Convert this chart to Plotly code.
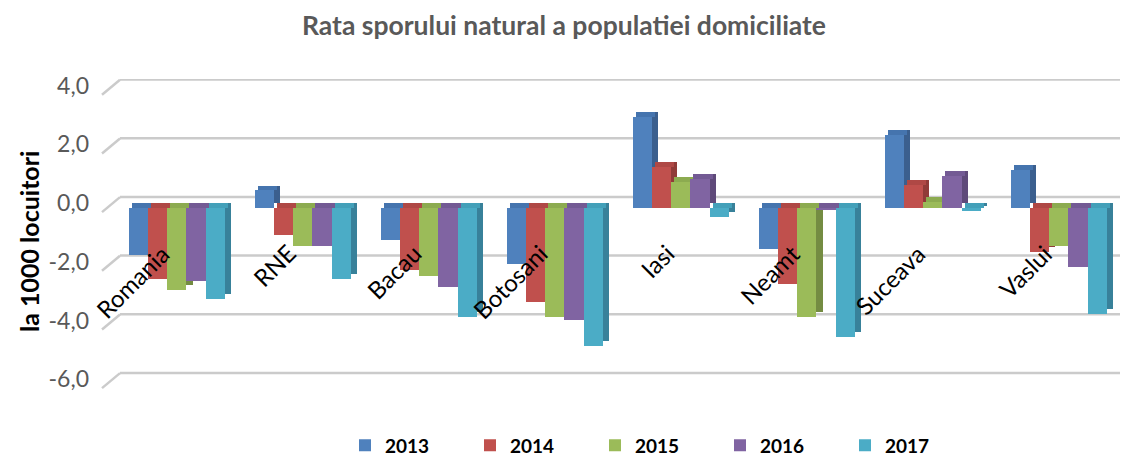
import plotly.graph_objects as go

categories = ["Romania", "RNE", "Bacau", "Botosani", "Iasi", "Neamt", "Suceava", "Vaslui"]
years = ["2013", "2014", "2015", "2016", "2017"]
v2013 = [-1.6, 0.6, -1.1, -1.9, 3.1, -1.4, 2.5, 1.3]
v2014 = [-2.4, -0.9, -2.1, -3.2, 1.4, -2.6, 0.8, -1.5]
v2015 = [-2.8, -1.3, -2.3, -3.7, 0.9, -3.7, 0.2, -1.3]
v2016 = [-2.5, -1.3, -2.7, -3.8, 1.0, -0.05, 1.1, -2.0]
v2017 = [-3.1, -2.4, -3.7, -4.7, -0.3, -4.4, -0.1, -3.6]
series = [v2013, v2014, v2015, v2016, v2017]
tick_vals = [4, 2, 0, -2, -4, -6]
tick_text = ["4,0", "2,0", "0,0", "-2,0", "-4,0", "-6,0"]

front_colors = ["#4F81BD", "#C0504D", "#9BBB59", "#8064A2", "#4BACC6"]
top_colors = ["#4574AE", "#AF4845", "#8CAB50", "#735A94", "#43A0B9"]
side_colors = ["#3B5F8E", "#903B38", "#748C42", "#5F4A7A", "#38819A"]

W = 0.153          # bar width in category units
DX = 0.05          # depth offset (x, category units)
DY = 0.17          # depth offset (y, value units)
GRID_BACK = 0.38   # back-wall offset of gridlines (value units)

# the page body has an 8px default margin, so the figure is sized to fit inside it
FIG_W, FIG_H = 1120, 449
ML, MR, MT, MB = 112, 0, 71, 67
PLOT_W = FIG_W - ML - MR

fig = go.Figure()
idx = list(range(len(categories)))

# depth side faces first
for j, vals in enumerate(series):
    xs = [i + (j - 2) * W + DX for i in idx]
    fig.add_trace(go.Bar(x=xs, y=vals, base=[DY] * len(vals), width=W,
                         marker=dict(color=side_colors[j], line=dict(width=0)),
                         showlegend=False, hoverinfo="skip"))
# top faces
for j, vals in enumerate(series):
    xs = [i + (j - 2) * W + DX / 2 for i in idx]
    fig.add_trace(go.Bar(x=xs, y=[DY] * len(vals), base=[max(v, 0) for v in vals],
                         width=W, marker=dict(color=top_colors[j], line=dict(width=0)),
                         showlegend=False, hoverinfo="skip"))
# front faces
for j, vals in enumerate(series):
    xs = [i + (j - 2) * W for i in idx]
    fig.add_trace(go.Bar(x=xs, y=vals, width=W, name=years[j],
                         marker=dict(color=front_colors[j], line=dict(width=0))))

# 3D-style gridlines: back-wall line plus short diagonal floor edge
for tv in tick_vals:
    fig.add_shape(type="line", xref="x domain", yref="y",
                  x0=0, x1=1, y0=tv + GRID_BACK, y1=tv + GRID_BACK,
                  line=dict(color="#CBCBCB", width=2.5), layer="below")
    fig.add_shape(type="line", xref="x domain", yref="y",
                  xsizemode="pixel", xanchor=0, x0=-18, x1=0,
                  ysizemode="pixel", yanchor=tv, y0=-4, y1=11,
                  line=dict(color="#CBCBCB", width=2.5), layer="below")

for i, c in enumerate(categories):
    fig.add_annotation(x=i, y=0, xref="x", yref="y", text=c, showarrow=False,
                       textangle=-45, xanchor="right", yanchor="top",
                       yshift=-28, xshift=1,
                       font=dict(family="Lato", size=24, color="#000000"))

fig.add_annotation(text="<b>la 1000 locuitori</b>", xref="paper", yref="paper",
                   x=(21 - ML) / PLOT_W, y=0.476, xanchor="center", yanchor="middle",
                   textangle=-90, showarrow=False,
                   font=dict(family="Lato", size=25, color="#000000"))

fig.update_layout(
    width=FIG_W, height=FIG_H,
    margin=dict(l=ML, r=MR, t=MT, b=MB, autoexpand=False),
    paper_bgcolor="white", plot_bgcolor="white",
    barmode="overlay", bargap=0,
    title=dict(text="<b>Rata sporului natural a populatiei domiciliate</b>",
               x=(564 - 8) / FIG_W, xref="container", xanchor="center",
               y=1 - 18 / FIG_H, yref="container", yanchor="middle",
               font=dict(family="Lato", size=26.5, color="#595959")),
    xaxis=dict(range=[-0.45, 7.55], showgrid=False, zeroline=False,
               showticklabels=False, showline=False, fixedrange=True,
               automargin=False),
    yaxis=dict(range=[-6.2, 4.4], tickvals=tick_vals, ticktext=tick_text,
               showgrid=False, zeroline=False, showline=False, ticks="",
               ticklabelstandoff=30, ticklabelshift=-5, automargin=False,
               tickfont=dict(family="Lato", size=23, color="#595959")),
    legend=dict(orientation="h", xref="container", yref="paper",
                x=337 / FIG_W, xanchor="left", y=-0.178, yanchor="middle",
                entrywidth=80, entrywidthmode="pixels", traceorder="normal",
                font=dict(family="Lato", size=19, color="#000000", weight="bold")),
)

fig.write_html("out.html")
